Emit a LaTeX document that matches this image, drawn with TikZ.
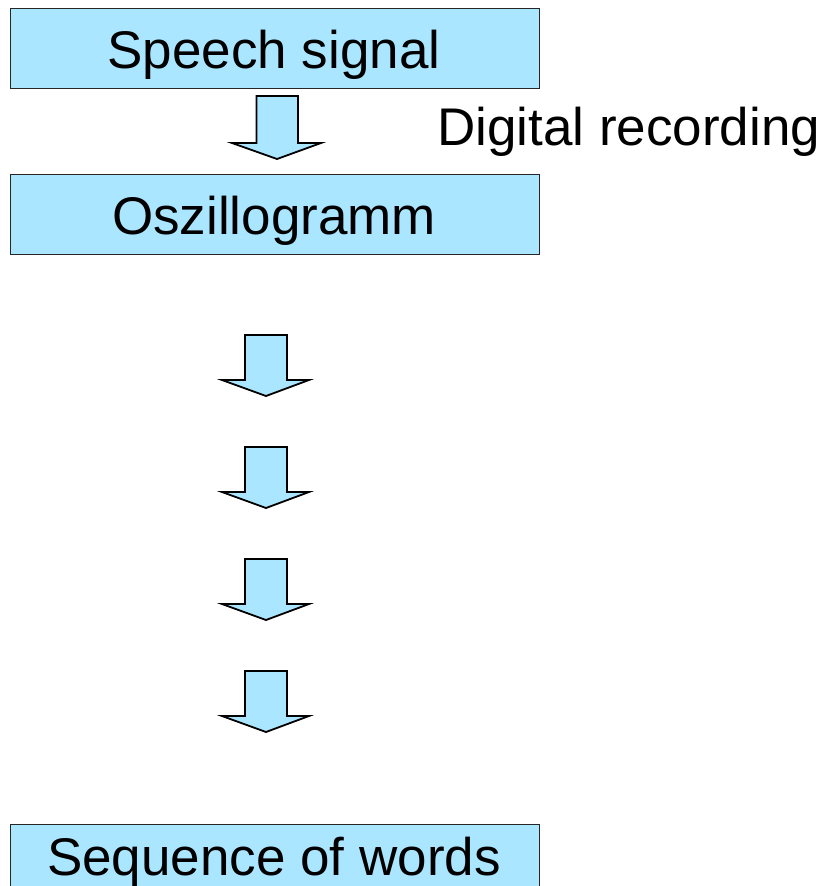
\documentclass[tikz,border=0pt]{standalone}
\usepackage{fontspec}
\setmainfont{Liberation Sans}
\definecolor{boxblue}{RGB}{170,230,255}
\begin{document}
\begin{tikzpicture}[x=1pt,y=-1pt,
  box/.style={draw=black!85,line width=1.5pt,fill=boxblue,minimum width=529pt,minimum height=80pt,inner sep=0pt,anchor=north west},
  lbl/.style={font=\fontsize{53}{60}\selectfont,anchor=base,inner sep=0pt},
  blk/.style={draw=black,line width=1.8pt,fill=boxblue,line join=miter}]
\useasboundingbox (0,0) rectangle (825,886);
\begin{scope}
\clip (0,0) rectangle (825,886);
\node[box] (b1) at (9.5,7.5) {};
\node[box] (b2) at (9.5,173.5) {};
\node[box] (b3) at (9.5,823.5) {};
\end{scope}
\node[lbl] (t1) at (274,68) {Speech signal};
\node[lbl] (t2) at (274,234.5) {Oszillogramm};
\node[lbl] (t3) at (274,875) {Sequence of words};
\node[lbl,anchor=base west] (dr) at (437,145) {Digital recording};
% block arrows
\draw[blk] (256.5,96) -- (298,96) -- (298,143) -- (321,143) -- (277,159) -- (232,143) -- (256.5,143) -- cycle;
\foreach \t in {335,447,559,671}{
  \draw[blk] (245,\t) -- (287,\t) -- (287,\t+45) -- (309,\t+45) -- (266,\t+61) -- (222,\t+45) -- (245,\t+45) -- cycle;
}
\end{tikzpicture}
\end{document}
